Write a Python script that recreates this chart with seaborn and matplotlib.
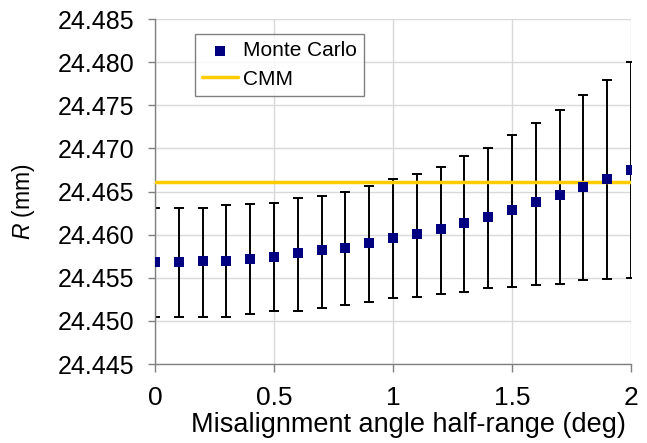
import matplotlib
matplotlib.use("Agg")
import matplotlib.pyplot as plt
import seaborn as sns
import numpy as np
import pandas as pd

angle = [0.0, 0.1, 0.2, 0.3, 0.4, 0.5, 0.6, 0.7, 0.8, 0.9, 1.0,
         1.1, 1.2, 1.3, 1.4, 1.5, 1.6, 1.7, 1.8, 1.9, 2.0]
r_mc = [24.4568, 24.4568, 24.4569, 24.4570, 24.4572, 24.4574, 24.4579, 24.4582,
        24.4585, 24.4590, 24.4596, 24.4601, 24.4607, 24.4613, 24.4621, 24.4629,
        24.4638, 24.4646, 24.4655, 24.4664, 24.4675]
r_upper = [24.4631, 24.4631, 24.4631, 24.4634, 24.4636, 24.4637, 24.4642, 24.4645,
           24.4650, 24.4656, 24.4664, 24.4670, 24.4679, 24.4691, 24.4701, 24.4715,
           24.4730, 24.4745, 24.4762, 24.4779, 24.4800]
r_lower = [24.4505, 24.4505, 24.4505, 24.4505, 24.4508, 24.4511, 24.4512, 24.4515,
           24.4519, 24.4522, 24.4526, 24.4528, 24.4531, 24.4534, 24.4538, 24.4539,
           24.4542, 24.4543, 24.4547, 24.4548, 24.4550]
r_cmm = 24.4661
x_ticks = [0, 0.5, 1, 1.5, 2]
x_tick_labels = ["0", "0.5", "1", "1.5", "2"]
y_ticks = [24.445, 24.450, 24.455, 24.460, 24.465, 24.470, 24.475, 24.480, 24.485]

sns.set_theme(style="white")
plt.rcParams['font.family'] = ['Liberation Sans', 'DejaVu Sans']
plt.rcParams['mathtext.fontset'] = 'custom'
plt.rcParams['mathtext.rm'] = 'Liberation Sans'
plt.rcParams['mathtext.it'] = 'Liberation Sans:italic'
plt.rcParams['text.color'] = 'black'
plt.rcParams['axes.labelcolor'] = 'black'

df = pd.DataFrame({"angle": angle, "R": r_mc})
fig = plt.figure(figsize=(6.47, 4.43), dpi=100)
ax = fig.add_axes([0.2396, 0.1783, 0.7357, 0.7787])

yerr = np.array([np.array(r_mc) - np.array(r_lower), np.array(r_upper) - np.array(r_mc)])
ax.errorbar(angle, r_mc, yerr=yerr, fmt="none", ecolor="black", elinewidth=1.4,
            capsize=3.5, capthick=1.4, zorder=2)
ax.axhline(r_cmm, color="#FFCC00", lw=2.5, label="CMM", zorder=3)
sns.scatterplot(data=df, x="angle", y="R", marker="s", s=55, color="#000080",
                edgecolor="#000080", linewidth=0, label="Monte Carlo", ax=ax, zorder=4)

ax.set_xlim(0, 2)
ax.set_ylim(24.445, 24.485)
ax.set_xticks(x_ticks)
ax.set_xticklabels(x_tick_labels)
ax.set_yticks(y_ticks)
ax.set_yticklabels([f"{v:.3f}" for v in y_ticks])
ax.tick_params(axis="y", labelsize=18, colors="#808080", labelcolor="black",
               direction="out", length=5, width=1, left=True, pad=10)
ax.tick_params(axis="x", labelsize=19, colors="#808080", labelcolor="black",
               direction="out", length=6, width=1, bottom=True, pad=10)
ax.grid(True, color="#d9d9d9", lw=1)
for s in ["top", "right"]:
    ax.spines[s].set_visible(False)
for s in ["left", "bottom"]:
    ax.spines[s].set_color("#808080")
    ax.spines[s].set_linewidth(1)

ax.set_xlabel("Misalignment angle half-range (deg)", fontsize=19.5, color="black")
ax.xaxis.set_label_coords(0.532, -0.138)
ax.set_ylabel(r"$\mathit{R}$ (mm)", fontsize=16.5, color="black")
ax.yaxis.set_label_coords(-0.248, 0.472)

handles, labels = ax.get_legend_handles_labels()
order = [labels.index("Monte Carlo"), labels.index("CMM")]
leg = ax.legend([handles[i] for i in order], [labels[i] for i in order],
                loc="upper left", bbox_to_anchor=(0.084, 0.957), borderaxespad=0,
                fontsize=15, frameon=True, fancybox=False, edgecolor="#606060",
                handlelength=1.7, handletextpad=0.25, borderpad=0.35,
                labelspacing=0.45)
leg.get_frame().set_linewidth(1)
for t in leg.get_texts():
    t.set_color("black")

fig.savefig("out.png", dpi=100)
